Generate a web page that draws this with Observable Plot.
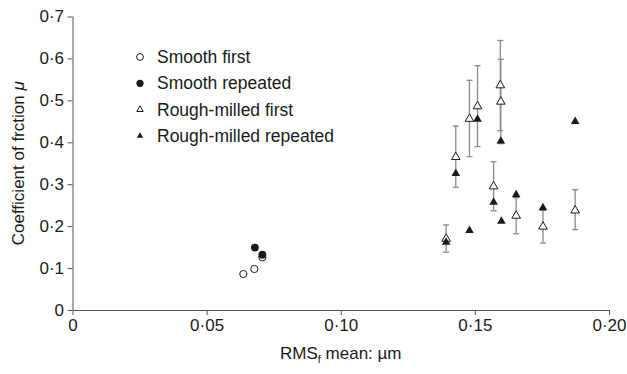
<!DOCTYPE html>
<html><head><meta charset="utf-8">
<script src="https://cdn.jsdelivr.net/npm/d3@7"></script>
<script src="https://cdn.jsdelivr.net/npm/@observablehq/plot@0.6"></script>
<style>
body{margin:0;background:#fff;}
#chart svg{font-family:"Liberation Sans",Arial,Helvetica,sans-serif;}
</style>
</head><body><div id="chart"></div>
<script>
// ---- data ----
const seriesNames = ["Smooth first", "Smooth repeated", "Rough-milled first", "Rough-milled repeated"];

const smoothFirstX = [0.0635, 0.0676, 0.0706];
const smoothFirstY = [0.087, 0.099, 0.127];

const smoothRepeatedX = [0.0678, 0.0706];
const smoothRepeatedY = [0.150, 0.133];

const roughFirstX  = [0.1391, 0.1427, 0.1478, 0.1508, 0.1568, 0.1593, 0.1595, 0.1652, 0.1752, 0.1872];
const roughFirstY  = [0.171, 0.366, 0.457, 0.487, 0.296, 0.537, 0.498, 0.226, 0.200, 0.2385];
const roughFirstLo = [0.139, 0.294, 0.367, 0.391, 0.238, 0.429, 0.398, 0.183, 0.161, 0.193];
const roughFirstHi = [0.204, 0.440, 0.549, 0.584, 0.355, 0.644, 0.599, 0.269, 0.239, 0.288];

const roughRepeatedX = [0.1391, 0.1427, 0.1478, 0.1508, 0.1568, 0.1595, 0.1597, 0.1652, 0.1752, 0.1872];
const roughRepeatedY = [0.163, 0.327, 0.191, 0.456, 0.258, 0.404, 0.213, 0.276, 0.245, 0.451];

const xTicks = [0, 0.05, 0.10, 0.15, 0.20];
const xTickLabels = ["0", "0·05", "0·10", "0·15", "0·20"];
const yTicks = [0, 0.1, 0.2, 0.3, 0.4, 0.5, 0.6, 0.7];
const yTickLabels = ["0", "0·1", "0·2", "0·3", "0·4", "0·5", "0·6", "0·7"];

const xTitle = ["RMS", "f", " mean: µm"];
const yTitle = ["Coefficient of frction ", "μ"];

// ---- tables ----
const zip = (xs, ys) => xs.map((x, i) => ({x, y: ys[i]}));
const smoothFirst = zip(smoothFirstX, smoothFirstY);
const smoothRepeated = zip(smoothRepeatedX, smoothRepeatedY);
const roughFirst = roughFirstX.map((x, i) => ({x, y: roughFirstY[i], lo: roughFirstLo[i], hi: roughFirstHi[i]}));
const roughRepeated = zip(roughRepeatedX, roughRepeatedY);

const lookup = (ticks, labels) => d => labels[ticks.findIndex(t => Math.abs(t - d) < 1e-9)];
const cap = {draw(ctx, size) { const h = Math.sqrt(size / Math.PI); ctx.moveTo(-h, 0); ctx.lineTo(h, 0); }};

const ink = "#1a1a1a";
const axisGray = "#555";
const barGray = "#8a8a8a";

const plot = Plot.plot({
  width: 627, height: 374,
  marginLeft: 72.5, marginRight: 18, marginTop: 16.5, marginBottom: 64,
  style: {fontFamily: '"Liberation Sans", Arial, sans-serif', fontSize: "17px", color: ink, background: "#fff", overflow: "visible"},
  x: {domain: [0, 0.2]},
  y: {domain: [0, 0.7]},
  marks: [
    Plot.ruleY([0], {stroke: axisGray, strokeWidth: 1}),
    Plot.ruleX([0], {stroke: axisGray, strokeWidth: 1}),
    Plot.axisX({ticks: xTicks, tickFormat: lookup(xTicks, xTickLabels), tickSize: 5, tickPadding: 3, label: null, stroke: axisGray, fill: ink}),
    Plot.axisY({ticks: yTicks, tickFormat: lookup(yTicks, yTickLabels), tickSize: 5, tickPadding: 4, label: null, stroke: axisGray, fill: ink}),
    // error bars
    Plot.ruleX(roughFirst, {x: "x", y1: "lo", y2: "hi", stroke: barGray, strokeWidth: 1.3}),
    Plot.dot(roughFirst, {x: "x", y: "lo", symbol: cap, r: 3, stroke: barGray, strokeWidth: 1.3}),
    Plot.dot(roughFirst, {x: "x", y: "hi", symbol: cap, r: 3, stroke: barGray, strokeWidth: 1.3}),
    // markers
    Plot.dot(smoothFirst, {x: "x", y: "y", symbol: "circle", r: 3.6, stroke: ink, fill: "#fff", strokeWidth: 1}),
    Plot.dot(smoothRepeated, {x: "x", y: "y", symbol: "circle", r: 3.9, fill: ink, stroke: "none"}),
    Plot.dot(roughFirst, {x: "x", y: "y", symbol: "triangle", r: 3.2, stroke: ink, fill: "#fff", strokeWidth: 1}),
    Plot.dot(roughRepeated, {x: "x", y: "y", symbol: "triangle", r: 3.2, fill: ink, stroke: "none"})
  ]
});

const svg = d3.select(plot);
const xs = plot.scale("x"), ys = plot.scale("y");

// x-axis title with subscript
const xt = svg.append("text")
  .attr("x", xs.apply(0.1)).attr("y", 359)
  .attr("text-anchor", "middle").attr("font-size", 17).attr("fill", ink);
xt.append("tspan").text(xTitle[0]);
xt.append("tspan").attr("font-size", 11).attr("dy", 4).text(xTitle[1]);
xt.append("tspan").attr("dy", -4).text(xTitle[2]);

// y-axis title
const yMid = (ys.apply(0) + ys.apply(0.7)) / 2;
const yt = svg.append("text")
  .attr("transform", `translate(24,${yMid}) rotate(-90)`)
  .attr("text-anchor", "middle").attr("font-size", 17).attr("fill", ink);
yt.append("tspan").text(yTitle[0]);
yt.append("tspan").attr("font-style", "italic").text(yTitle[1]);

// legend
const legendStyles = [
  {type: d3.symbolCircle, size: Math.PI * 3.4 * 3.4, fill: "#fff", stroke: ink},
  {type: d3.symbolCircle, size: Math.PI * 3.6 * 3.6, fill: ink, stroke: "none"},
  {type: d3.symbolTriangle, size: Math.PI * 2.4 * 2.4, fill: "#fff", stroke: ink},
  {type: d3.symbolTriangle, size: Math.PI * 2.4 * 2.4, fill: ink, stroke: "none"}
];
const lg = svg.append("g").attr("transform", "translate(140,57)");
seriesNames.forEach((name, i) => {
  const row = lg.append("g").attr("transform", `translate(0,${i * 26.3})`);
  const s = legendStyles[i];
  row.append("path").attr("d", d3.symbol(s.type, s.size)()).attr("fill", s.fill).attr("stroke", s.stroke).attr("stroke-width", 1);
  row.append("text").attr("x", 17).attr("dy", "0.35em").attr("text-anchor", "start")
    .attr("font-size", 17.5).attr("fill", ink).text(name);
});

document.getElementById("chart").appendChild(plot);
</script>
</body></html>
